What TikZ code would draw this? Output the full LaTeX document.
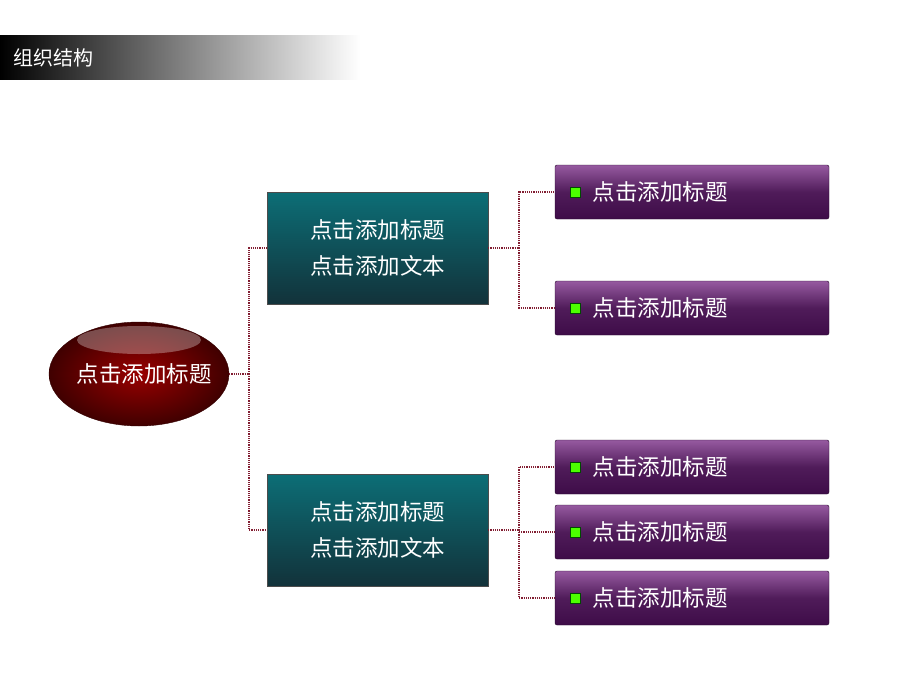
\documentclass[tikz,border=0pt]{standalone}
\usepackage{fontspec}
\newfontfamily\cjk{Noto Sans CJK SC}
\usetikzlibrary{positioning,shapes.geometric}
\definecolor{tealtop}{RGB}{12,110,118}
\definecolor{tealbot}{RGB}{18,50,58}
\definecolor{purptop}{RGB}{150,90,160}
\definecolor{purpbot}{RGB}{62,12,72}
\definecolor{linkred}{RGB}{130,30,50}
\tikzset{
  headbox/.style={draw=black!70, top color=tealtop, bottom color=tealbot,
    minimum width=221pt, minimum height=112pt, align=center,
    text=white, font=\cjk\fontsize{22.5}{36}\selectfont},
  itembox/.style={draw=purpbot!60!black, rounded corners=2pt,
    top color=purptop, bottom color=purpbot, middle color=purpbot!80!purptop,
    minimum width=274pt, minimum height=54pt},
  itemtext/.style={anchor=west, text=white, font=\cjk\fontsize{22.5}{26}\selectfont},
  link/.style={draw=linkred, densely dotted, line width=1.2pt},
  bullet/.style={draw=green!30!black, fill=green!70!yellow, minimum size=10pt, inner sep=0pt}
}
\begin{document}
\begin{tikzpicture}[x=1pt, y=-1pt]
  \useasboundingbox (0,0) rectangle (920,690);
  % 标题栏
  \shade[left color=black, right color=white] (0,36) rectangle (360,80);
  \node[anchor=west, text=white, font=\cjk\fontsize{20}{22}\selectfont] (title) at (10,58) {组织结构};

  % 中心椭圆
  \node[ellipse, draw=red!20!black, inner color=red!60!black, outer color=red!25!black,
    minimum width=180pt, minimum height=104pt, inner sep=0pt] (root) at (139,374) {};
  \fill[white, opacity=0.3] (139,340) ellipse [x radius=62, y radius=14];
  \node[text=white, font=\cjk\fontsize{22.5}{26}\selectfont] (rootlabel) at (144,374) {点击添加标题};

  % 二级节点
  \node[headbox] (h1) at (377.5,248) {点击添加标题\\点击添加文本};
  \node[headbox] (h2) at (377.5,530) {点击添加标题\\点击添加文本};

  % 三级节点
  \foreach \name/\y in {a/192, b/308, c/467, d/532, e/598} {
    \node[itembox] (\name) at (692,\y) {};
    \node[bullet] at (575,\y) {};
    \node[itemtext] at (589,\y) {点击添加标题};
  }

  % 连线
  \draw[link] (root.east) -- (249,374) |- (h1.west);
  \draw[link] (249,374) |- (h2.west);
  \draw[link] (h1.east) -- (519,248) |- (a.west);
  \draw[link] (519,248) |- (b.west);
  \draw[link] (h2.east) -- (519,530) |- (c.west);
  \draw[link] (519,530) |- (e.west);
  \draw[link] (519,532) -- (d.west);
\end{tikzpicture}
\end{document}
